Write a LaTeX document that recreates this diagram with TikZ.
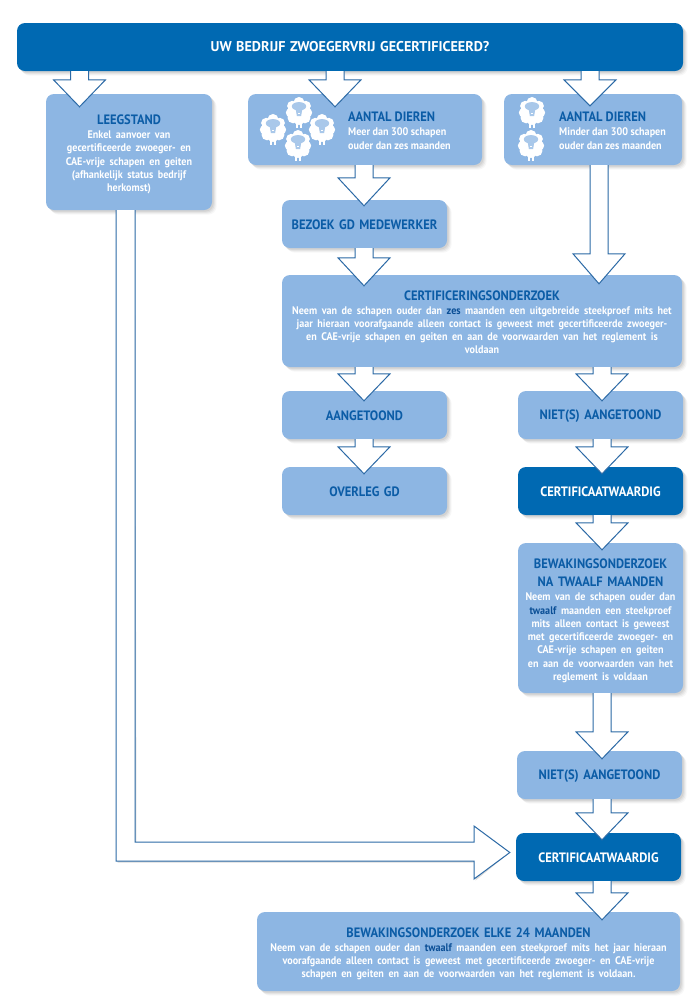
\documentclass[tikz,border=0pt]{standalone}
\usepackage{fontspec}
\usetikzlibrary{shadows,calc}
\setmainfont{PT Sans}
\newfontfamily\headfam[FakeStretch=.92]{PT Sans}
\definecolor{deep}{HTML}{0069B2}
\definecolor{soft}{HTML}{8DB6E3}
\definecolor{ink}{HTML}{0B5CA6}
\definecolor{edge}{HTML}{2C6AA6}
\definecolor{hl}{HTML}{0B4F96}
\definecolor{face}{HTML}{A9C8EA}
\newcommand{\headfont}{\headfam\bfseries\fontsize{13.6}{14}\selectfont}
\tikzset{
  softshadow/.style={
    general shadow={shadow xshift=4.5pt,shadow yshift=-4.5pt,fill=black!60,opacity=.05},
    general shadow={shadow xshift=3.5pt,shadow yshift=-3.5pt,fill=black!60,opacity=.07},
    general shadow={shadow xshift=2.5pt,shadow yshift=-2.5pt,fill=black!60,opacity=.09},
    general shadow={shadow xshift=1.5pt,shadow yshift=-1.5pt,fill=black!60,opacity=.10}},
  basebox/.style={rectangle,rounded corners=8pt,inner sep=0pt,align=center,softshadow,
    font=\headfont},
  softbox/.style={basebox,fill=soft,text=ink},
  deepbox/.style={basebox,fill=deep,text=white},
  blockarrow/.style={draw=edge,line width=1pt,fill=white,line join=miter},
  sidetext/.style={anchor=north west,inner sep=0pt,text=ink,align=left,font=\headfont},
}
\newcommand{\bodyfont}{\color{white}\bfseries\fontsize{11}{13.25}\selectfont}
\newcommand{\bodylines}[2][c]{{\bodyfont\begin{tabular}[t]{@{}#1@{}}#2\end{tabular}}}
\newcommand{\pad}[1]{\rule{0pt}{#1}}
\newcommand{\mkbox}[7]{% style, name, x0,y0,x1,y1, text
  \node[#1,minimum width=#5pt-#3pt,minimum height=#6pt-#4pt,text width=#5pt-#3pt] (#2)
    at ({(#3+#5)/2},{(#4+#6)/2}) {#7};}
% from node, to node, centre x, arrow tip beyond target's top, head length
\newcommand{\downarr}[5]{%
  \coordinate (S) at (#3,0 |- #1.south);
  \coordinate (T) at ($(#3,0 |- #2.north)+(0,#4)$);
  \coordinate (H) at ($(T)+(0,-#5)$);
  \fill[black,opacity=.15,xshift=1.5pt,yshift=-1.5pt]
    ($(S)+(-9,0)$) -- ($(H -| S)+(-9,0)$) -- ($(H -| S)+(-26,0)$) -- (T)
    -- ($(H -| S)+(26,0)$) -- ($(H -| S)+(9,0)$) -- ($(S)+(9,0)$) -- cycle;
  \draw[blockarrow]
    ($(S)+(-9,0)$) -- ($(H -| S)+(-9,0)$) -- ($(H -| S)+(-26,0)$) -- (T)
    -- ($(H -| S)+(26,0)$) -- ($(H -| S)+(9,0)$) -- ($(S)+(9,0)$);}
% sheep: centre x,y, scale
\newcommand{\sheep}[3]{%
  \begin{scope}[shift={(#1,#2)},scale=#3]
    \fill[white] (-3.6,10) rectangle (-1,20.5);
    \fill[white] (1,10) rectangle (3.6,20.5);
    \fill[white] (0,-10) circle (6.5) (-8,-6) circle (6) (8,-6) circle (6)
      (-10,2) circle (5.5) (10,2) circle (5.5) (-7,8) circle (6.5) (7,8) circle (6.5) (0,10) circle (6.5) (0,0) circle (11);
    \fill[face] (0,-5.5) ellipse (8.5 and 5);
    \fill[face] (-4,-3) -- (4,-3) -- (2.5,6) -- (-2.5,6) -- cycle;
    \fill[white] (-1.3,2) rectangle (1.3,4);
  \end{scope}}
\begin{document}
\begin{tikzpicture}[x=1pt,y=-1pt]
\useasboundingbox (0,0) rectangle (700,1005);
\fill[white] (0,0) rectangle (700,1005);

\mkbox{deepbox}{top}{17}{23}{683}{71}{\normalfont\bfseries\fontsize{14.15}{16}\selectfont UW BEDRIJF ZWOEGERVRIJ GECERTIFICEERD?}
\mkbox{softbox}{leeg}{46}{94}{212}{210}{\pad{16pt}LEEGSTAND\\\bodylines{Enkel aanvoer van\\gecertificeerde zwoeger- en\\CAE-vrije schapen en geiten\\(afhankelijk status bedrijf\\herkomst)}}
\mkbox{softbox}{many}{248}{94}{482}{165}{}
\mkbox{softbox}{few}{504}{94}{682}{165}{}
\node[sidetext] (manytxt) at (348,112) {AANTAL DIEREN\\\bodylines[l]{Meer dan 300 schapen\\ouder dan zes maanden}};
\node[sidetext] (fewtxt) at (559,112) {AANTAL DIEREN\\\bodylines[l]{Minder dan 300 schapen\\ouder dan zes maanden}};
\mkbox{softbox}{bezoek}{282}{200}{447}{248}{\pad{12pt}BEZOEK GD MEDEWERKER}
\mkbox{softbox}{cert}{282}{275}{682}{367}{\pad{16pt}CERTIFICERINGSONDERZOEK\\\bodylines{Neem van de schapen ouder dan {\color{hl}zes} maanden een uitgebreide steekproef mits het\\jaar hieraan voorafgaande alleen contact is geweest met gecertificeerde zwoeger-\\en CAE-vrije schapen en geiten en aan de voorwaarden van het reglement is\\voldaan}}
\mkbox{softbox}{aang}{282}{391}{447}{439}{\pad{12pt}AANGETOOND}
\mkbox{softbox}{niet}{518}{391}{683}{439}{\pad{12pt}NIET(S) AANGETOOND}
\mkbox{softbox}{overleg}{282}{467}{447}{515}{\pad{12pt}OVERLEG GD}
\mkbox{deepbox}{certw}{518}{467}{683}{515}{\pad{12pt}CERTIFICAATWAARDIG}
\mkbox{softbox}{bewak}{518}{543}{683}{693}{\pad{17pt}BEWAKINGSONDERZOEK\\[4pt]NA TWAALF MAANDEN\\\bodylines{Neem van de schapen ouder dan\\{\color{hl}twaalf} maanden een steekproef\\mits alleen contact is geweest\\met gecertificeerde zwoeger- en\\CAE-vrije schapen en geiten\\en aan de voorwaarden van het\\reglement is voldaan}}
\mkbox{softbox}{niettwee}{517}{751}{682}{799}{\pad{12pt}NIET(S) AANGETOOND}
\mkbox{deepbox}{certwtwee}{516}{833}{681}{881}{\pad{12pt}CERTIFICAATWAARDIG}
\mkbox{softbox}{elke}{257}{912}{680}{991}{\pad{16pt}BEWAKINGSONDERZOEK ELKE 24 MAANDEN\\\bodylines{Neem van de schapen ouder dan {\color{hl}twaalf} maanden een steekproef mits het jaar hieraan\\voorafgaande alleen contact is geweest met gecertificeerde zwoeger- en CAE-vrije\\schapen en geiten en aan de voorwaarden van het reglement is voldaan.}}

\sheep{273}{128}{.85}
\sheep{299}{111}{.85}
\sheep{322}{128}{.85}
\sheep{298}{144}{.85}
\sheep{532}{111}{.85}
\sheep{531}{144}{.85}

\downarr{top}{leeg}{79.5}{13}{27}
\downarr{top}{many}{335}{13}{27}
\downarr{top}{few}{590}{12}{26}
\downarr{many}{bezoek}{364}{6}{28}
\downarr{bezoek}{cert}{364}{11}{28}
\downarr{few}{cert}{599}{9}{30}
\downarr{cert}{aang}{364}{10}{27}
\downarr{cert}{niet}{602}{10}{27}
\downarr{aang}{overleg}{364}{7}{27}
\downarr{niet}{certw}{602}{7}{27}
\downarr{certw}{bewak}{602}{7}{27}
\downarr{bewak}{niettwee}{602}{8}{27}
\downarr{niettwee}{certwtwee}{602}{7}{27}
\downarr{certwtwee}{elke}{602}{8}{27}

\coordinate (LS) at (116,0 |- leeg.south);
\coordinate (LE) at (135,0 |- leeg.south);
\coordinate (LTip) at ($(certwtwee.west)+(-6,-4.5)$);
\fill[black,opacity=.15,xshift=1.5pt,yshift=-1.5pt]
  (LS) -- (116,861) -- (474,861) -- (474,879) -- (LTip) -- (474,826) -- (474,842) -- (135,842) -- (LE) -- cycle;
\draw[blockarrow] (LS) -- (116,861) -- (474,861) -- (474,879) -- (LTip) -- (474,826) -- (474,842) -- (135,842) -- (LE);
\end{tikzpicture}
\end{document}
